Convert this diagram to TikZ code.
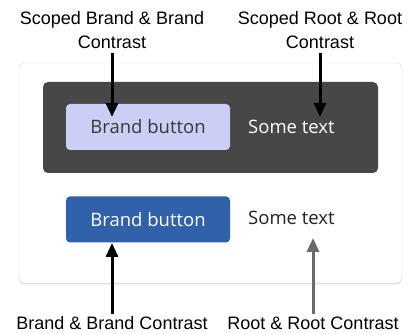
\documentclass[tikz,border=0pt]{standalone}
\usepackage{fontspec}
\usetikzlibrary{arrows.meta}
\newfontfamily\lblfont{Liberation Sans}
\newfontfamily\uifont{Open Sans}
\definecolor{cardline}{HTML}{DEDEDE}
\definecolor{scopebg}{HTML}{474747}
\definecolor{lightbrand}{HTML}{CBCEF5}
\definecolor{brandblue}{HTML}{3161AB}
\definecolor{darktext}{HTML}{222222}
\definecolor{rootgray}{HTML}{6A6A6A}
\tikzset{
  callout/.style={font=\lblfont\fontsize{18}{24}\selectfont, align=center, inner sep=2pt},
  brandbtn/.style={rounded corners=4pt, minimum width=164pt, minimum height=46pt, inner sep=0pt, font=\uifont\fontsize{18.5}{22}\selectfont},
  plaintext/.style={anchor=west, inner sep=0pt, font=\uifont\fontsize{18.5}{22}\selectfont},
  pointer/.style={line width=3pt, -{Triangle[width=12pt,length=14pt]}}
}
\begin{document}
\begin{tikzpicture}[x=1pt,y=-1pt]
\useasboundingbox (0,0) rectangle (416,334);
%card and scoped area
\fill[black!12, rounded corners=5pt] (19,64.5) rectangle (402,284.5);
\draw[cardline, fill=white, rounded corners=5pt] (19,63) rectangle (402,283);
\fill[scopebg, rounded corners=5pt] (43,82) rectangle (378,173);
%buttons and texts
\node[brandbtn, fill=lightbrand, text=darktext!90] (lbtn) at (148,127) {Brand button};
\node[plaintext, text=white] (ltext) at (248,127) {Some text};
\node[brandbtn, fill=brandblue, text=white] (bbtn) at (148,219.5) {Brand button};
\node[plaintext, text=darktext] (btext) at (248,218) {Some text};
%labels
\node[callout] (scbrand) at (112,30) {Scoped Brand \& Brand\\Contrast};
\node[callout] (scroot) at (320,30) {Scoped Root \& Root\\Contrast};
\node[callout] (brand) at (112,323) {Brand \& Brand Contrast};
\node[callout] (root) at (313,323) {Root \& Root Contrast};
%arrow tips
\coordinate (tipa) at (112,117);
\coordinate (tipb) at (320,117);
\coordinate (tipc) at (112,243);
\coordinate (tipd) at (313,238);
\draw[pointer] ([yshift=-2pt]scbrand.south) -- (tipa);
\draw[pointer] ([yshift=-2pt]scroot.south) -- (tipb);
\draw[pointer] (brand.north) -- (tipc);
\draw[pointer, rootgray] (root.north) -- (tipd);
\end{tikzpicture}
\end{document}
